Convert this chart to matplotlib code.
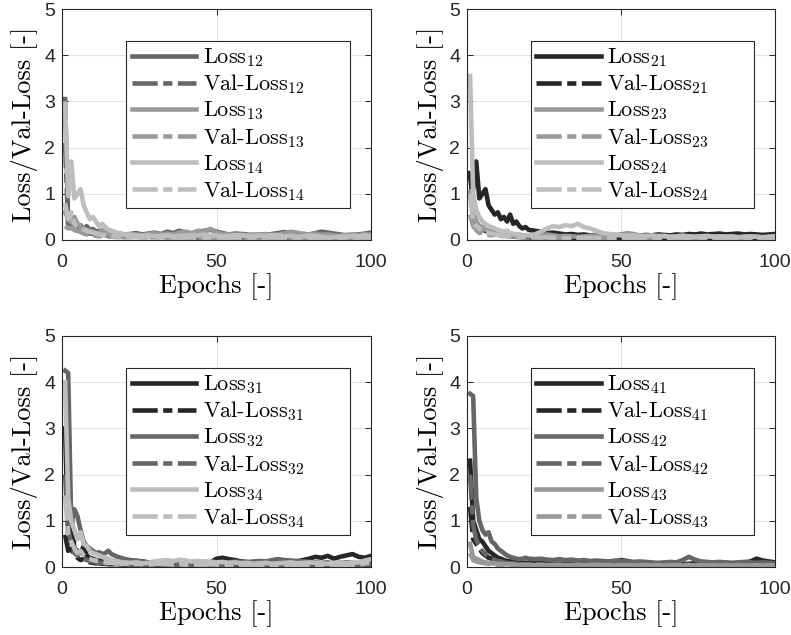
import matplotlib
matplotlib.use("Agg")
import matplotlib.pyplot as plt

plt.rcParams["mathtext.fontset"] = "cm"

epochs = list(range(1, 21)) + list(range(22, 101, 2))

# ---- panel 1: model 1 vs 2, 3, 4
loss_12 = [3.05, 0.35, 0.30, 0.38, 0.28, 0.32, 0.25, 0.30, 0.22, 0.24, 0.18, 0.20, 0.15, 0.14, 0.16, 0.12, 0.13, 0.12, 0.14, 0.12,
           0.13, 0.15, 0.12, 0.14, 0.16, 0.13, 0.18, 0.15, 0.20, 0.16, 0.14, 0.18, 0.20, 0.22, 0.18, 0.15, 0.12, 0.14, 0.13, 0.12,
           0.10, 0.12, 0.11, 0.13, 0.15, 0.17, 0.15, 0.14, 0.13, 0.12, 0.15, 0.18, 0.16, 0.14, 0.12, 0.10, 0.11, 0.12, 0.14, 0.16]
val_12 = [2.10, 0.28, 0.25, 0.22, 0.20, 0.18, 0.16, 0.15, 0.14, 0.13, 0.12, 0.11, 0.10, 0.10, 0.09, 0.09, 0.08, 0.08, 0.08, 0.07,
          0.07, 0.08, 0.07, 0.06, 0.07, 0.06, 0.06, 0.07, 0.06, 0.05, 0.06, 0.05, 0.06, 0.05, 0.05, 0.06, 0.05, 0.04, 0.05, 0.05,
          0.04, 0.05, 0.04, 0.05, 0.04, 0.04, 0.05, 0.04, 0.04, 0.05, 0.04, 0.05, 0.04, 0.04, 0.05, 0.04, 0.04, 0.05, 0.04, 0.05]
loss_13 = [0.60, 0.45, 0.38, 0.50, 0.35, 0.30, 0.25, 0.22, 0.20, 0.18, 0.15, 0.16, 0.22, 0.14, 0.12, 0.13, 0.11, 0.12, 0.10, 0.10,
           0.11, 0.12, 0.10, 0.13, 0.15, 0.12, 0.14, 0.12, 0.16, 0.18, 0.15, 0.20, 0.18, 0.24, 0.16, 0.13, 0.12, 0.11, 0.12, 0.10,
           0.12, 0.11, 0.13, 0.10, 0.12, 0.14, 0.18, 0.16, 0.13, 0.12, 0.14, 0.11, 0.12, 0.10, 0.09, 0.11, 0.12, 0.10, 0.13, 0.12]
val_13 = [0.30, 0.25, 0.26, 0.22, 0.20, 0.18, 0.14, 0.12, 0.11, 0.10, 0.09, 0.08, 0.09, 0.08, 0.07, 0.08, 0.07, 0.06, 0.07, 0.06,
          0.06, 0.07, 0.06, 0.05, 0.06, 0.07, 0.05, 0.06, 0.05, 0.06, 0.05, 0.06, 0.05, 0.04, 0.05, 0.06, 0.05, 0.04, 0.05, 0.04,
          0.05, 0.04, 0.05, 0.06, 0.04, 0.05, 0.04, 0.05, 0.04, 0.05, 0.04, 0.05, 0.04, 0.03, 0.04, 0.05, 0.04, 0.04, 0.05, 0.04]
loss_14 = [2.95, 0.95, 1.70, 0.90, 1.00, 1.10, 0.75, 0.60, 0.45, 0.50, 0.40, 0.30, 0.35, 0.28, 0.22, 0.20, 0.18, 0.15, 0.14, 0.12,
           0.12, 0.10, 0.09, 0.10, 0.08, 0.09, 0.10, 0.08, 0.09, 0.10, 0.11, 0.10, 0.12, 0.09, 0.10, 0.08, 0.09, 0.11, 0.10, 0.09,
           0.08, 0.10, 0.09, 0.11, 0.10, 0.08, 0.09, 0.07, 0.08, 0.10, 0.09, 0.07, 0.05, 0.06, 0.08, 0.07, 0.09, 0.08, 0.10, 0.09]
val_14 = [0.80, 0.45, 0.60, 0.35, 0.30, 0.28, 0.22, 0.20, 0.17, 0.16, 0.14, 0.12, 0.11, 0.10, 0.10, 0.09, 0.08, 0.08, 0.07, 0.07,
          0.07, 0.06, 0.06, 0.07, 0.05, 0.06, 0.05, 0.06, 0.05, 0.05, 0.06, 0.05, 0.05, 0.04, 0.05, 0.05, 0.04, 0.05, 0.04, 0.05,
          0.04, 0.05, 0.04, 0.04, 0.05, 0.04, 0.04, 0.03, 0.04, 0.04, 0.03, 0.04, 0.03, 0.04, 0.04, 0.03, 0.04, 0.04, 0.03, 0.04]

# ---- panel 2: model 2 vs 1, 3, 4
loss_21 = [1.35, 1.10, 1.70, 0.90, 1.00, 1.10, 0.75, 0.65, 0.55, 0.60, 0.45, 0.50, 0.40, 0.55, 0.35, 0.40, 0.30, 0.25, 0.28, 0.22,
           0.20, 0.18, 0.15, 0.16, 0.14, 0.12, 0.13, 0.11, 0.12, 0.10, 0.11, 0.10, 0.09, 0.10, 0.11, 0.12, 0.10, 0.09, 0.11, 0.10,
           0.12, 0.11, 0.10, 0.12, 0.11, 0.13, 0.12, 0.14, 0.12, 0.13, 0.14, 0.12, 0.13, 0.14, 0.12, 0.13, 0.12, 0.11, 0.12, 0.13]
val_21 = [1.50, 0.60, 0.35, 0.30, 0.22, 0.20, 0.16, 0.14, 0.12, 0.12, 0.10, 0.09, 0.09, 0.08, 0.08, 0.07, 0.07, 0.06, 0.06, 0.06,
          0.05, 0.05, 0.06, 0.08, 0.05, 0.04, 0.05, 0.04, 0.05, 0.04, 0.04, 0.05, 0.04, 0.04, 0.05, 0.04, 0.04, 0.03, 0.04, 0.04,
          0.03, 0.04, 0.04, 0.03, 0.04, 0.03, 0.04, 0.03, 0.03, 0.04, 0.03, 0.04, 0.03, 0.03, 0.04, 0.03, 0.03, 0.04, 0.03, 0.03]
loss_23 = [1.05, 0.55, 0.40, 0.30, 0.28, 0.22, 0.20, 0.18, 0.15, 0.14, 0.13, 0.12, 0.12, 0.11, 0.10, 0.10, 0.09, 0.10, 0.09, 0.08,
           0.09, 0.10, 0.12, 0.10, 0.08, 0.09, 0.08, 0.07, 0.08, 0.09, 0.10, 0.09, 0.08, 0.10, 0.12, 0.15, 0.13, 0.10, 0.09, 0.08,
           0.09, 0.08, 0.07, 0.08, 0.09, 0.08, 0.07, 0.08, 0.07, 0.08, 0.07, 0.08, 0.07, 0.06, 0.07, 0.08, 0.07, 0.06, 0.07, 0.08]
val_23 = [0.55, 0.30, 0.22, 0.15, 0.18, 0.12, 0.11, 0.10, 0.12, 0.09, 0.08, 0.09, 0.08, 0.07, 0.08, 0.07, 0.06, 0.07, 0.06, 0.06,
          0.05, 0.06, 0.05, 0.06, 0.05, 0.04, 0.05, 0.04, 0.05, 0.04, 0.05, 0.04, 0.04, 0.05, 0.04, 0.04, 0.03, 0.04, 0.04, 0.03,
          0.04, 0.03, 0.04, 0.04, 0.03, 0.04, 0.03, 0.03, 0.04, 0.03, 0.03, 0.04, 0.03, 0.03, 0.04, 0.03, 0.03, 0.04, 0.03, 0.03]
loss_24 = [3.55, 1.00, 0.65, 0.50, 0.40, 0.35, 0.30, 0.28, 0.25, 0.22, 0.20, 0.18, 0.20, 0.15, 0.14, 0.12, 0.13, 0.10, 0.11, 0.10,
           0.12, 0.18, 0.25, 0.30, 0.28, 0.32, 0.30, 0.35, 0.28, 0.25, 0.20, 0.15, 0.13, 0.12, 0.10, 0.09, 0.10, 0.08, 0.09, 0.10,
           0.08, 0.09, 0.07, 0.08, 0.09, 0.08, 0.07, 0.08, 0.09, 0.07, 0.08, 0.07, 0.08, 0.06, 0.07, 0.08, 0.07, 0.06, 0.07, 0.08]
val_24 = [1.00, 0.40, 0.30, 0.25, 0.20, 0.18, 0.15, 0.14, 0.12, 0.11, 0.10, 0.09, 0.09, 0.08, 0.08, 0.07, 0.07, 0.06, 0.07, 0.06,
          0.06, 0.05, 0.06, 0.05, 0.05, 0.04, 0.05, 0.04, 0.05, 0.04, 0.04, 0.05, 0.04, 0.04, 0.03, 0.04, 0.04, 0.03, 0.04, 0.03,
          0.04, 0.03, 0.03, 0.04, 0.03, 0.03, 0.04, 0.03, 0.03, 0.04, 0.03, 0.03, 0.04, 0.03, 0.03, 0.04, 0.03, 0.03, 0.03, 0.04]

# ---- panel 3: model 3 vs 1, 2, 4
loss_31 = [3.00, 0.60, 1.20, 0.40, 0.35, 0.30, 0.45, 0.25, 0.20, 0.18, 0.15, 0.14, 0.12, 0.11, 0.12, 0.10, 0.10, 0.09, 0.08, 0.10,
           0.09, 0.10, 0.12, 0.10, 0.09, 0.10, 0.08, 0.09, 0.10, 0.11, 0.10, 0.09, 0.11, 0.10, 0.18, 0.20, 0.17, 0.15, 0.12, 0.11,
           0.10, 0.12, 0.11, 0.10, 0.12, 0.11, 0.10, 0.12, 0.15, 0.18, 0.22, 0.20, 0.24, 0.18, 0.22, 0.25, 0.28, 0.22, 0.20, 0.24]
val_31 = [0.70, 0.35, 0.40, 0.25, 0.20, 0.15, 0.18, 0.12, 0.10, 0.09, 0.08, 0.08, 0.07, 0.07, 0.06, 0.06, 0.06, 0.05, 0.05, 0.05,
          0.05, 0.04, 0.05, 0.04, 0.04, 0.05, 0.04, 0.04, 0.03, 0.04, 0.04, 0.03, 0.04, 0.03, 0.04, 0.03, 0.03, 0.04, 0.03, 0.03,
          0.04, 0.03, 0.03, 0.04, 0.03, 0.03, 0.04, 0.03, 0.03, 0.04, 0.03, 0.04, 0.03, 0.03, 0.04, 0.03, 0.04, 0.03, 0.03, 0.04]
loss_32 = [4.25, 4.20, 0.90, 1.25, 1.10, 0.80, 0.55, 0.45, 0.40, 0.35, 0.30, 0.32, 0.28, 0.30, 0.35, 0.28, 0.25, 0.22, 0.20, 0.18,
           0.15, 0.14, 0.12, 0.10, 0.11, 0.09, 0.10, 0.08, 0.09, 0.08, 0.09, 0.08, 0.09, 0.10, 0.09, 0.08, 0.10, 0.12, 0.11, 0.10,
           0.12, 0.13, 0.12, 0.15, 0.17, 0.15, 0.14, 0.13, 0.12, 0.11, 0.10, 0.09, 0.10, 0.08, 0.09, 0.10, 0.09, 0.08, 0.10, 0.09]
val_32 = [2.00, 0.80, 0.50, 0.30, 0.25, 0.22, 0.18, 0.15, 0.13, 0.12, 0.10, 0.09, 0.09, 0.08, 0.07, 0.07, 0.06, 0.06, 0.05, 0.05,
          0.05, 0.04, 0.05, 0.04, 0.04, 0.03, 0.04, 0.03, 0.04, 0.03, 0.03, 0.04, 0.03, 0.03, 0.04, 0.03, 0.03, 0.02, 0.03, 0.03,
          0.02, 0.03, 0.03, 0.02, 0.03, 0.02, 0.03, 0.02, 0.02, 0.03, 0.02, 0.03, 0.02, 0.02, 0.03, 0.02, 0.02, 0.03, 0.02, 0.02]
loss_34 = [4.00, 1.50, 1.00, 0.80, 0.60, 0.75, 0.50, 0.45, 0.35, 0.30, 0.28, 0.25, 0.22, 0.20, 0.18, 0.15, 0.14, 0.12, 0.11, 0.10,
           0.09, 0.10, 0.08, 0.09, 0.12, 0.14, 0.15, 0.13, 0.16, 0.14, 0.12, 0.13, 0.11, 0.12, 0.10, 0.11, 0.09, 0.10, 0.08, 0.09,
           0.07, 0.08, 0.09, 0.07, 0.08, 0.09, 0.10, 0.08, 0.09, 0.10, 0.09, 0.08, 0.07, 0.09, 0.10, 0.08, 0.09, 0.10, 0.14, 0.17]
val_34 = [1.55, 0.70, 0.55, 0.40, 0.30, 0.35, 0.25, 0.20, 0.18, 0.15, 0.14, 0.12, 0.11, 0.10, 0.09, 0.09, 0.08, 0.08, 0.07, 0.07,
          0.06, 0.07, 0.06, 0.05, 0.06, 0.07, 0.06, 0.05, 0.06, 0.05, 0.06, 0.05, 0.05, 0.06, 0.05, 0.04, 0.05, 0.05, 0.04, 0.05,
          0.04, 0.05, 0.05, 0.04, 0.05, 0.04, 0.05, 0.04, 0.05, 0.04, 0.05, 0.04, 0.04, 0.05, 0.04, 0.05, 0.04, 0.05, 0.08, 0.10]

# ---- panel 4: model 4 vs 1, 2, 3
loss_41 = [2.30, 1.00, 0.80, 0.60, 0.55, 0.45, 0.35, 0.30, 0.25, 0.20, 0.18, 0.15, 0.13, 0.12, 0.12, 0.11, 0.10, 0.10, 0.09, 0.09,
           0.09, 0.08, 0.09, 0.08, 0.07, 0.08, 0.09, 0.08, 0.09, 0.08, 0.09, 0.10, 0.12, 0.11, 0.15, 0.13, 0.10, 0.09, 0.08, 0.07,
           0.08, 0.07, 0.08, 0.07, 0.06, 0.07, 0.08, 0.07, 0.08, 0.09, 0.10, 0.09, 0.08, 0.09, 0.10, 0.12, 0.18, 0.14, 0.12, 0.10]
val_41 = [1.30, 0.60, 0.50, 0.40, 0.30, 0.25, 0.20, 0.18, 0.15, 0.12, 0.10, 0.09, 0.08, 0.08, 0.07, 0.07, 0.06, 0.06, 0.06, 0.05,
          0.05, 0.05, 0.04, 0.05, 0.04, 0.04, 0.05, 0.04, 0.04, 0.03, 0.04, 0.04, 0.03, 0.04, 0.03, 0.04, 0.03, 0.03, 0.04, 0.03,
          0.03, 0.04, 0.03, 0.03, 0.04, 0.03, 0.03, 0.03, 0.04, 0.03, 0.03, 0.04, 0.03, 0.03, 0.04, 0.03, 0.04, 0.03, 0.03, 0.04]
loss_42 = [3.75, 3.70, 1.50, 1.00, 0.80, 0.70, 0.75, 0.55, 0.50, 0.40, 0.35, 0.30, 0.25, 0.22, 0.20, 0.18, 0.17, 0.18, 0.20, 0.18,
           0.17, 0.18, 0.16, 0.15, 0.17, 0.15, 0.16, 0.14, 0.15, 0.13, 0.14, 0.13, 0.12, 0.14, 0.13, 0.12, 0.11, 0.12, 0.11, 0.10,
           0.09, 0.10, 0.11, 0.10, 0.15, 0.22, 0.16, 0.12, 0.11, 0.10, 0.11, 0.10, 0.09, 0.10, 0.11, 0.10, 0.09, 0.10, 0.09, 0.08]
val_42 = [2.00, 0.90, 0.60, 0.45, 0.35, 0.28, 0.22, 0.18, 0.15, 0.13, 0.12, 0.10, 0.09, 0.08, 0.08, 0.07, 0.07, 0.06, 0.06, 0.05,
          0.05, 0.05, 0.04, 0.05, 0.04, 0.04, 0.05, 0.04, 0.04, 0.04, 0.03, 0.04, 0.04, 0.03, 0.04, 0.03, 0.03, 0.04, 0.03, 0.03,
          0.03, 0.04, 0.03, 0.03, 0.04, 0.05, 0.04, 0.03, 0.03, 0.04, 0.03, 0.03, 0.04, 0.03, 0.03, 0.04, 0.03, 0.03, 0.04, 0.03]
loss_43 = [0.50, 0.22, 0.18, 0.15, 0.12, 0.10, 0.09, 0.08, 0.08, 0.07, 0.07, 0.06, 0.06, 0.06, 0.05, 0.05, 0.05, 0.05, 0.04, 0.05,
           0.04, 0.05, 0.04, 0.04, 0.05, 0.04, 0.04, 0.05, 0.04, 0.04, 0.05, 0.04, 0.04, 0.03, 0.04, 0.04, 0.03, 0.04, 0.04, 0.03,
           0.04, 0.03, 0.04, 0.04, 0.03, 0.04, 0.03, 0.04, 0.03, 0.04, 0.03, 0.04, 0.03, 0.04, 0.03, 0.03, 0.04, 0.03, 0.04, 0.03]
val_43 = [0.30, 0.15, 0.12, 0.10, 0.09, 0.08, 0.07, 0.06, 0.06, 0.05, 0.05, 0.05, 0.04, 0.04, 0.04, 0.04, 0.03, 0.04, 0.03, 0.03,
          0.03, 0.03, 0.03, 0.02, 0.03, 0.03, 0.02, 0.03, 0.02, 0.03, 0.02, 0.03, 0.02, 0.02, 0.03, 0.02, 0.02, 0.03, 0.02, 0.02,
          0.03, 0.02, 0.02, 0.03, 0.02, 0.02, 0.03, 0.02, 0.02, 0.03, 0.02, 0.02, 0.03, 0.02, 0.02, 0.03, 0.02, 0.02, 0.03, 0.02]

# grey level per model index
model_grey = {1: "#262626", 2: "#666666", 3: "#999999", 4: "#bdbdbd"}

panels = [
    (1, [(2, loss_12, val_12), (3, loss_13, val_13), (4, loss_14, val_14)]),
    (2, [(1, loss_21, val_21), (3, loss_23, val_23), (4, loss_24, val_24)]),
    (3, [(1, loss_31, val_31), (2, loss_32, val_32), (4, loss_34, val_34)]),
    (4, [(1, loss_41, val_41), (2, loss_42, val_42), (3, loss_43, val_43)]),
]

W, H = 791, 635
# axes boxes in pixels: left, top, right, bottom
boxes = [(62, 9, 371, 240), (467, 9, 775, 240), (62, 336, 371, 567), (467, 336, 775, 567)]

fig = plt.figure(figsize=(W / 100, H / 100), dpi=100)

serif = "cmr10"
dashdot = (0, (5.5, 1.2, 2.0, 1.2))

for (i, pairs), (l, t, r, b) in zip(panels, boxes):
    ax = fig.add_axes([l / W, 1 - b / H, (r - l) / W, (b - t) / H])
    for j, loss, val in pairs:
        c = model_grey[j]
        ax.plot(epochs, loss, color=c, lw=3.3, label="Loss$_{%d%d}$" % (i, j))
        ax.plot(epochs, val, color=c, lw=3.3, linestyle=dashdot,
                label="Val-Loss$_{%d%d}$" % (i, j))
    ax.set_xlim(0, 100)
    ax.set_ylim(0, 5)
    ax.set_xticks([0, 50, 100])
    ax.set_yticks([0, 1, 2, 3, 4, 5])
    ax.grid(True, color="#e3e3e3", lw=0.8)
    ax.set_axisbelow(True)
    ax.tick_params(direction="in", length=4, width=0.7, top=True, right=True,
                   labelsize=14, colors="#262626")
    ax.tick_params(axis="x", pad=10)
    ax.tick_params(axis="y", pad=5)
    for lab in ax.get_xticklabels() + ax.get_yticklabels():
        lab.set_fontfamily("Liberation Sans")
    for sp in ax.spines.values():
        sp.set_linewidth(0.8)
        sp.set_color("#262626")
    ax.set_xlabel("Epochs [-]", fontfamily=serif, fontsize=19, labelpad=2)
    ax.set_ylabel("Loss/Val-Loss [-]", fontfamily=serif, fontsize=19, labelpad=4)
    leg = ax.legend(loc="upper left", bbox_to_anchor=(0.207, 0.1385, 0.725, 0.7235),
                    mode="expand", borderaxespad=0,
                    frameon=True, fancybox=False, framealpha=1, edgecolor="#262626",
                    handlelength=2.9, handletextpad=0.3, labelspacing=0.15,
                    borderpad=0.25, prop={"family": serif, "size": 16})
    leg.get_frame().set_linewidth(0.8)

fig.savefig("out.png", dpi=100)
